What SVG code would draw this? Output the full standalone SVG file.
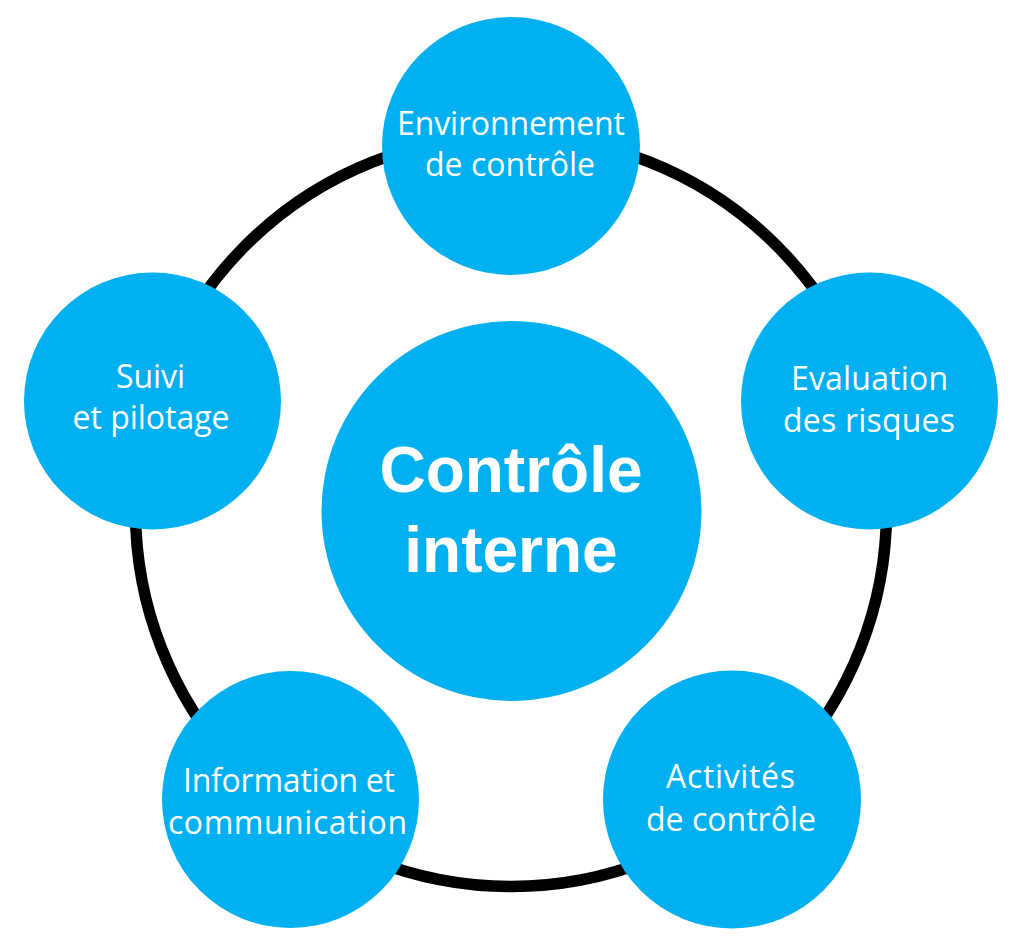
<svg xmlns="http://www.w3.org/2000/svg" width="1018" height="946" viewBox="0 0 1018 946">
  <style>
    .node { fill: #00B0F0; }
    .lbl { font-family: "Open Sans", "Liberation Sans", sans-serif; font-size: 32px; fill: #FFFFFF; text-anchor: middle; }
    .title { font-family: "Liberation Sans", Arial, sans-serif; font-size: 64px; font-weight: bold; fill: #FFFFFF; text-anchor: middle; }
  </style>
  <rect width="1018" height="946" fill="#FFFFFF"/>
  <g id="connectors">
    <circle cx="511" cy="511" r="375.5" fill="none" stroke="#000000" stroke-width="11.5"/>
  </g>
  <g id="center">
    <circle class="node" cx="511.5" cy="511" r="190"/>
    <text class="title" x="511" y="492">Contrôle</text>
    <text class="title" x="511" y="572">interne</text>
  </g>
  <g id="environnement">
    <circle class="node" cx="511" cy="146" r="129"/>
    <text class="lbl" x="511" y="135" textLength="228" lengthAdjust="spacing">Environnement</text>
    <text class="lbl" x="510" y="176" textLength="170" lengthAdjust="spacing">de contrôle</text>
  </g>
  <g id="evaluation">
    <circle class="node" cx="869.5" cy="401" r="128.5"/>
    <text class="lbl" x="869.5" y="390" textLength="157" lengthAdjust="spacing">Evaluation</text>
    <text class="lbl" x="869" y="432" textLength="172" lengthAdjust="spacing">des risques</text>
  </g>
  <g id="activites">
    <circle class="node" cx="732" cy="799.5" r="129"/>
    <text class="lbl" x="730.5" y="788" textLength="129" lengthAdjust="spacing">Activités</text>
    <text class="lbl" x="731" y="831" textLength="170" lengthAdjust="spacing">de contrôle</text>
  </g>
  <g id="information">
    <circle class="node" cx="290.5" cy="799.5" r="128.5"/>
    <text class="lbl" x="289" y="792" textLength="212" lengthAdjust="spacing">Information et</text>
    <text class="lbl" x="287.5" y="834" textLength="239" lengthAdjust="spacing">communication</text>
  </g>
  <g id="suivi">
    <circle class="node" cx="152.5" cy="401" r="128.5"/>
    <text class="lbl" x="150.5" y="388" textLength="69" lengthAdjust="spacing">Suivi</text>
    <text class="lbl" x="151" y="429" textLength="157" lengthAdjust="spacing">et pilotage</text>
  </g>
</svg>
